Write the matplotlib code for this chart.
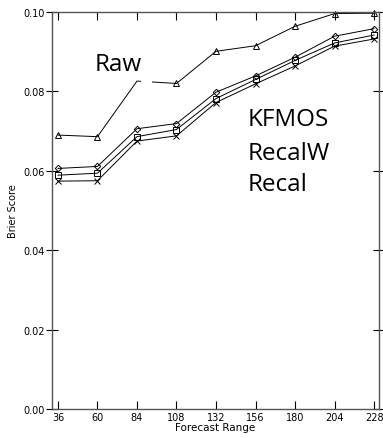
import matplotlib
matplotlib.use("Agg")
import matplotlib.pyplot as plt
from matplotlib.patches import Rectangle

# forecast range (hours) and Brier scores
lead = [36, 60, 84, 108, 132, 156, 180, 204, 228]
raw = [0.0690, 0.0686, 0.0826, 0.0820, 0.0901, 0.0915, 0.0964, 0.0996, 0.0997]
kfmos = [0.0606, 0.0611, 0.0706, 0.0719, 0.0798, 0.0839, 0.0886, 0.0939, 0.0958]
recalw = [0.0589, 0.0594, 0.0686, 0.0704, 0.0782, 0.0830, 0.0878, 0.0922, 0.0942]
recal = [0.0574, 0.0575, 0.0675, 0.0688, 0.0772, 0.0819, 0.0864, 0.0914, 0.0932]
yticks = [0.00, 0.02, 0.04, 0.06, 0.08, 0.10]

fig = plt.figure(figsize=(3.83, 4.39), dpi=100)
ax = fig.add_axes([0.1358, 0.066, 0.8538, 0.9044])

style = dict(color="black", linewidth=0.7, markersize=4, markerfacecolor="none",
             markeredgewidth=0.7, clip_on=False)
# the 84 h marker of the Raw curve is blanked out in the original
ax.plot(lead, raw, marker="^", markevery=[0, 1, 3, 4, 5, 6, 7, 8], **style)
ax.plot(lead, kfmos, marker="D", **dict(style, markersize=3.3))
ax.plot(lead, recalw, marker="s", **style)
ax.plot(lead, recal, marker="x", **style)

# small blank gap in the Raw line just after 84
ax.add_patch(Rectangle((86.5, 0.0815), 6.5, 0.0020, facecolor="white",
                       edgecolor="none", zorder=5))

ax.set_xlim(32.4, 231)
ax.set_ylim(0, 0.10)
ax.set_xticks(lead)
ax.set_yticks(yticks)
ax.set_yticklabels([f"{v:.2f}" for v in yticks])

ax.tick_params(axis="x", direction="in", top=True, length=6, width=0.8,
               labelsize=7, pad=2)
ax.tick_params(axis="y", which="both", direction="inout", length=8, width=0.8,
               labelsize=7, pad=1)
ax.tick_params(axis="y", right=True)
for s in ax.spines.values():
    s.set_linewidth(1.0)
    s.set_color("#555555")

ax.set_xlabel("Forecast Range", fontsize=7.5, labelpad=0)
ax.set_ylabel("Brier Score", fontsize=7, labelpad=4)

font = ["Open Sans", "DejaVu Sans"]
ax.text(58.5, 0.0870, "Raw", fontsize=17.5, family=font, ha="left", va="center")
ax.text(151.5, 0.0730, "KFMOS", fontsize=17.5, family=font, ha="left", va="center")
ax.text(151.5, 0.0645, "RecalW", fontsize=17.5, family=font, ha="left", va="center")
ax.text(151.5, 0.0567, "Recal", fontsize=17.5, family=font, ha="left", va="center")

fig.savefig("out.png", dpi=100, facecolor="white")
